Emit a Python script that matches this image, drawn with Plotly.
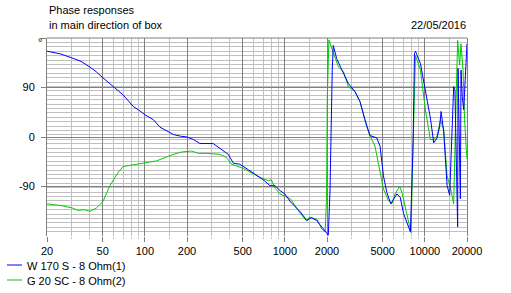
import math
import plotly.graph_objects as go

# ---------------- data ----------------
freq_w170 = [20, 25, 30, 35, 40.6, 45, 50, 56, 63, 70, 83, 90, 100, 115, 128, 145, 160, 180, 200,
             222, 247, 308, 344, 394, 429, 476, 550, 630, 700, 783, 850, 924, 1000, 1097, 1200,
             1293, 1432, 1547, 1684, 1827, 2043, 2100, 2138, 2180, 2218, 2346, 2547, 2838, 3170,
             3439, 3733, 4052, 4530, 4787, 5060, 5345, 5713, 6310, 6670, 7050, 7885, 8020, 8250,
             8430, 8570, 9300, 10090, 10950, 11570, 12230, 12770, 13060, 13630, 14000, 14410,
             15040, 15460, 15810, 16060, 16400, 16680, 16980, 17150, 17260, 17720, 17930, 18130,
             18500, 18940, 19300, 19600, 20000]
phase_w170 = [156, 151, 144, 137.5, 127, 118.5, 108, 97.5, 87, 76.5, 55, 49.5, 40.5, 31.5, 18, 10.5,
              4.5, 1.5, 0, -4.5, -11.7, -12, -21, -31.5, -47.7, -49.5, -59.7, -69, -77.7, -88.5,
              -88.5, -97.5, -103.5, -118, -127.5, -136.5, -151.5, -147, -151.5, -163.5, -178.5,
              -100, 37, 121, 166.5, 142.5, 122.7, 97.5, 82.5, 64.5, 31.5, 2.7, -1.5, -16.5, -70.5,
              -100.5, -121.5, -103.5, -109.5, -139.5, -172.5, -118.5, -4.5, 151.5, 156, 133.5,
              85.5, 34.5, -10.5, -1.5, 19.5, 46.5, 10, -45, -88, -106, -28.5, 31.5, 91.5, 85,
              -16.5, -118.5, -163.5, 124.5, -16.5, -112.5, 121.5, 73.5, 49.5, 97.5, 133.5, 169.5]

freq_g20 = [20, 24.9, 30.3, 33.4, 36.4, 40.6, 45.1, 50.3, 56.2, 64.4, 70, 80, 92.6, 100, 121, 160,
            183, 215, 241, 277, 344, 384, 416, 506, 610, 665, 762, 800, 850, 924, 1097, 1200, 1293,
            1432, 1500, 1700, 1827, 1940, 1985, 2010, 2064, 2148, 2415, 2627, 2838, 3170, 3439,
            3835, 4052, 4400, 4787, 5060, 5488, 5800, 6130, 6595, 6860, 7440, 7960, 8250, 8430,
            8570, 9300, 10090, 10950, 11570, 12230, 12920, 13630, 14410, 15210, 16060, 16780,
            17150, 17720, 18130, 18740, 19220, 19780, 20000]
phase_g20 = [-121.5, -124.5, -129, -133.5, -132, -135, -129, -117, -88.5, -64.5, -53.7, -51.3, -49.5,
             -47.7, -43.5, -31.5, -27.3, -25.5, -29.7, -29.7, -31.5, -37.5, -49.5, -57.3, -69,
             -73.5, -79.5, -77.7, -93, -103.5, -112.5, -127.5, -139.5, -153, -145.5, -150, -166.5,
             -172.5, -112.5, 73.5, 176.7, 163.5, 127.5, 118.5, 91.5, 82.5, 64.5, 19.5, 2.7, -16.5,
             -64.5, -94.5, -115.5, -121.5, -103.5, -89.7, -100.5, -142.5, -173.7, -10.5, 103.5,
             148.5, 121.5, 49.5, -4.5, -4.5, 1.5, 31.5, 13.5, -70.5, -91.5, -121.5, 85.5, 175.5,
             130.5, 169.5, 121.5, 31.5, -22.5, -40.5]

series_names = ["W 170 S - 8 Ohm(1)", "G 20 SC - 8 Ohm(2)"]
series_colors = ["#0000ff", "#00cc00"]

x_tick_vals = [20, 50, 100, 200, 500, 1000, 2000, 5000, 10000, 20000]
x_tick_text = ["20", "50", "100", "200", "500", "1000", "2000", "5000", "10000", "20000"]
x_minor_vals = [30, 40, 60, 70, 80, 90, 150, 300, 400, 600, 700, 800, 900, 1500,
                3000, 4000, 6000, 7000, 8000, 9000, 15000]
y_tick_vals = [-90, 0, 90, 180]
y_tick_text = ["-90", "0", "90", ""]
y_minor_vals = list(range(-172, 180, 8))

title_lines = ["Phase responses", "in main direction of box"]
date_text = "22/05/2016"
unit_text = "°"

# ---------------- layout geometry ----------------
W, H = 511, 293
L, R, T, B = 47, 44, 38, 57
PW, PH = W - L - R, H - T - B

def px_x(px):
    return (px - L) / PW

def px_y(py):
    return (H - B - py) / PH

FONT = "Liberation Sans, Arial, sans-serif"
FS = 11
MAJ = "#808080"
MIN = "#c0c0c0"

fig = go.Figure()
fig.add_trace(go.Scatter(x=freq_g20, y=phase_g20, mode="lines", name=series_names[1],
                         line=dict(color=series_colors[1], width=1)))
fig.add_trace(go.Scatter(x=freq_w170, y=phase_w170, mode="lines", name=series_names[0],
                         line=dict(color=series_colors[0], width=1)))

annotations = [
    dict(text=title_lines[0], x=px_x(47), y=px_y(10), xanchor="left", yanchor="middle"),
    dict(text=title_lines[1], x=px_x(47), y=px_y(25.5), xanchor="left", yanchor="middle"),
    dict(text=date_text, x=px_x(468), y=px_y(25.5), xanchor="right", yanchor="middle"),
    dict(text=unit_text, x=px_x(40), y=px_y(42), xanchor="center", yanchor="middle"),
    dict(text=series_names[0], x=px_x(25), y=px_y(266), xanchor="left", yanchor="middle"),
    dict(text=series_names[1], x=px_x(25), y=px_y(280.5), xanchor="left", yanchor="middle"),
]
for a in annotations:
    a.update(xref="paper", yref="paper", showarrow=False,
             font=dict(family=FONT, size=FS, color="black"))

shapes = [
    dict(type="line", xref="paper", yref="paper", x0=0, x1=1, y0=1, y1=1,
         line=dict(color=MAJ, width=1)),
    dict(type="line", xref="paper", yref="paper", x0=px_x(7), x1=px_x(22), y0=px_y(265), y1=px_y(265),
         line=dict(color=series_colors[0], width=1)),
    dict(type="line", xref="paper", yref="paper", x0=px_x(7), x1=px_x(22), y0=px_y(280), y1=px_y(280),
         line=dict(color=series_colors[1], width=1)),
]

fig.update_layout(
    width=W, height=H,
    margin=dict(l=L, r=R, t=T, b=B, pad=0),
    paper_bgcolor="white", plot_bgcolor="white",
    showlegend=False,
    font=dict(family=FONT, size=FS, color="black"),
    annotations=annotations,
    shapes=shapes,
)
fig.update_xaxes(
    type="log", range=[math.log10(20), math.log10(20000)],
    tickmode="array", tickvals=x_tick_vals, ticktext=x_tick_text,
    ticks="outside", ticklen=5, tickcolor=MAJ, tickwidth=1,
    showgrid=True, gridcolor=MAJ, gridwidth=1,
    showline=False, zeroline=False,
    tickfont=dict(family=FONT, size=FS, color="black"),
    minor=dict(tickvals=x_minor_vals, showgrid=True, gridcolor=MIN, gridwidth=1,
               ticks="outside", ticklen=2, tickcolor=MIN),
)
fig.update_yaxes(
    range=[-180, 180],
    tickmode="array", tickvals=y_tick_vals, ticktext=y_tick_text,
    ticks="outside", ticklen=5, tickcolor=MAJ, tickwidth=1,
    ticklabelstandoff=4,
    showgrid=True, gridcolor=MAJ, gridwidth=1,
    showline=True, linecolor=MAJ, linewidth=1, mirror=True, zeroline=False,
    tickfont=dict(family=FONT, size=FS, color="black"),
    minor=dict(tickvals=y_minor_vals, showgrid=True, gridcolor=MIN, gridwidth=1, ticks=""),
)

fig.write_html("out.html")
